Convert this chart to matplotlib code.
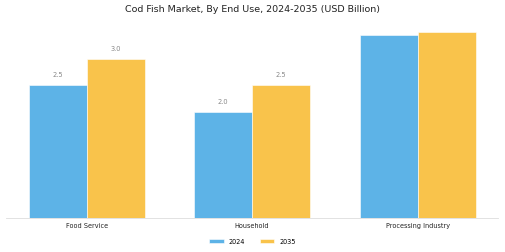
import matplotlib
matplotlib.use("Agg")
import matplotlib.pyplot as plt
import numpy as np

categories = ["Food Service", "Household", "Processing Industry"]
series_names = ["2024", "2035"]
values_2024 = [2.5, 2.0, 3.45]
values_2035 = [3.0, 2.5, 3.5]
labels_2024 = ["2.5", "2.0", ""]
labels_2035 = ["3.0", "2.5", ""]
colors = ["#5DB3E7", "#F9C34B"]

fig = plt.figure(figsize=(5.05, 2.53), dpi=100)
ax = fig.add_axes([6/505, 34/253, 492/505, 194/253])

x = np.arange(len(categories))
w = 0.35
b1 = ax.bar(x - w/2, values_2024, w, color=colors[0], edgecolor="white", linewidth=0.4, label=series_names[0])
b2 = ax.bar(x + w/2, values_2035, w, color=colors[1], edgecolor="white", linewidth=0.4, label=series_names[1])

for bars, labs in ((b1, labels_2024), (b2, labels_2035)):
    for rect, lab in zip(bars, labs):
        if lab:
            ax.annotate(lab, (rect.get_x() + rect.get_width()/2, rect.get_height()),
                        xytext=(0, 6), textcoords="offset points",
                        ha="center", va="bottom", fontsize=4.8, color="#888888")

ax.set_xlim(-0.487, 2.485)
ax.set_ylim(0, 3.66)
ax.set_xticks(x)
ax.set_xticklabels(categories, fontsize=4.7, color="#222222")
ax.tick_params(axis="x", length=0, pad=3)
ax.set_yticks([])
for s in ("left", "right", "top"):
    ax.spines[s].set_visible(False)
ax.spines["bottom"].set_color("#dddddd")
ax.spines["bottom"].set_linewidth(0.6)

fig.text(0.5, 1 - 10/253, "Cod Fish Market, By End Use, 2024-2035 (USD Billion)",
         fontsize=6.8, color="#222222", ha="center", va="center")
fig.legend(loc="center", bbox_to_anchor=(0.5, 1 - 242/253), ncol=2, frameon=False,
           fontsize=4.7, handlelength=2.2, handleheight=0.6, handletextpad=0.8, columnspacing=2.2)

fig.savefig("out.png", dpi=100)
